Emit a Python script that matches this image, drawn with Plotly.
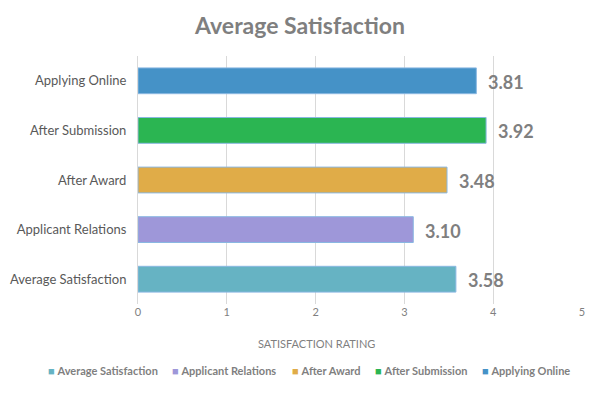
import plotly.graph_objects as go

categories = ["Average Satisfaction", "Applicant Relations", "After Award", "After Submission", "Applying Online"]
values = [3.58, 3.10, 3.48, 3.92, 3.81]
colors = ["#66b3c3", "#9e97d9", "#e0ac48", "#2bb552", "#4592c7"]
x_ticks = [0, 1, 2, 3, 4, 5]

FONT = "Lato, Open Sans, sans-serif"
L, R, T, B = 138, 18, 56, 90
PW, PH = 600 - L - R, 394 - T - B

def px_x(px):
    return (px - L) / PW

def px_y(py):
    return (394 - B - py) / PH

fig = go.Figure()
for cat, val, col in zip(categories, values, colors):
    fig.add_trace(go.Bar(
        y=[cat], x=[val], name=cat, orientation="h",
        marker=dict(color=col, line=dict(color="#8ab8e2", width=1)),
        width=0.52, showlegend=False,
    ))

annotations = []
for cat, val in zip(categories, values):
    annotations.append(dict(text=f"<b>{val:.2f}</b>", x=val, y=cat, xref="x", yref="y",
                            xanchor="left", yanchor="middle", xshift=10, yshift=-1, showarrow=False,
                            font=dict(family=FONT, size=18, color="#7f7f7f")))

annotations.append(dict(text="SATISFACTION RATING", xref="paper", yref="paper", x=px_x(316), y=px_y(343),
                        xanchor="center", yanchor="middle", showarrow=False,
                        font=dict(family=FONT, size=11, color="#7f7f7f")))

legend_x = [46, 170, 290, 373, 480]
for cat, col, lx in zip(categories, colors, legend_x):
    annotations.append(dict(text=f"<span style='color:{col}'>■</span> <b>{cat}</b>", xref="paper", yref="paper",
                            x=px_x(lx), y=px_y(370), xanchor="left", yanchor="middle", showarrow=False,
                            font=dict(family=FONT, size=11, color="#7f7f7f")))

fig.update_layout(
    width=600, height=394,
    barmode="overlay",
    paper_bgcolor="white", plot_bgcolor="white",
    margin=dict(l=L, r=R, t=T, b=B, autoexpand=False),
    title=dict(text="<b>Average Satisfaction</b>", x=0.5, xanchor="center", y=0.935, yanchor="middle",
               font=dict(family=FONT, size=23, color="#7f7f7f")),
    xaxis=dict(range=[0, 5], tickvals=x_ticks, showgrid=True, gridcolor="#d9d9d9", gridwidth=1,
               zeroline=False, showline=False, ticks="",
               tickfont=dict(family=FONT, size=11, color="#7f7f7f")),
    yaxis=dict(categoryorder="array", categoryarray=categories, showgrid=False, zeroline=False,
               showline=True, linecolor="#d9d9d9", linewidth=1, ticks="", ticklabelstandoff=8,
               tickfont=dict(family=FONT, size=13, color="#595959")),
    showlegend=False,
    annotations=annotations,
)

fig.write_html("out.html", config={"displayModeBar": False},
               post_script="document.body.style.margin='0';")
